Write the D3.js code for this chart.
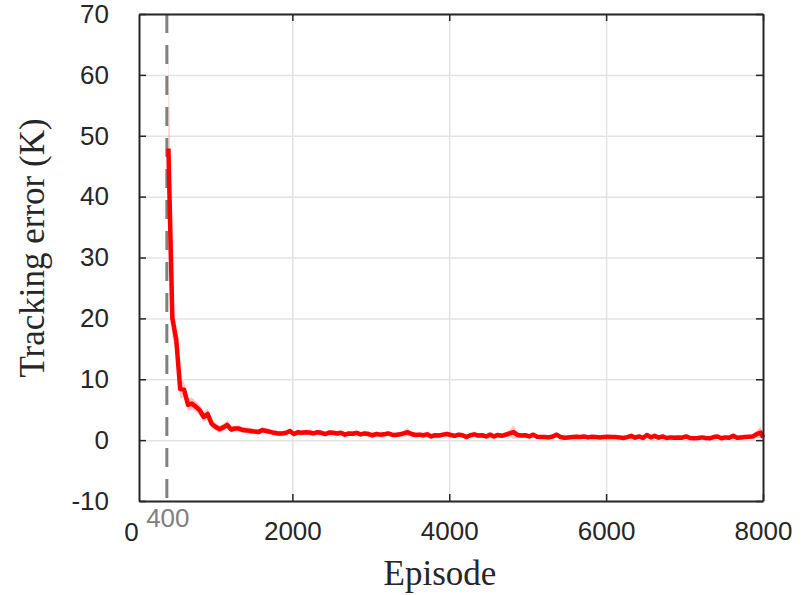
<!DOCTYPE html>
<html>
<head>
<meta charset="utf-8">
<script src="https://cdn.jsdelivr.net/npm/d3@7/dist/d3.min.js"></script>
<style>
  body { margin: 0; background: #fff; }
  .grid line { stroke: #e3e3e3; stroke-width: 1.5; }
  .grid .domain { display: none; }
  .tick text { font-family: "Liberation Sans", Arial, sans-serif; font-size: 26px; fill: #262626; }
</style>
</head>
<body>
<div id="chart"></div>
<script>
// tracking error (K), one value every 50 episodes starting at 420, last one at 8000
var errMean = [47.9, 20.0, 16.5, 8.4, 8.3, 5.8, 6.0, 5.5, 4.9, 3.8,
  4.3, 2.7, 2.2, 1.8, 2.1, 2.5, 1.75, 1.9, 1.9, 1.65,
  1.6, 1.5, 1.4, 1.35, 1.65, 1.5, 1.35, 1.2, 1.1, 1.1,
  1.2, 1.5, 1.0, 1.3, 1.2, 1.3, 1.25, 1.1, 1.3, 1.2,
  1.0, 1.25, 1.2, 1.1, 1.2, 0.9, 1.1, 1.05, 1.2, 0.95,
  1.1, 1.0, 0.8, 1.0, 0.9, 0.95, 1.1, 0.9, 0.85, 0.95,
  1.1, 1.3, 1.0, 0.85, 0.9, 0.8, 0.95, 0.6, 0.8, 0.75,
  0.9, 1.0, 0.85, 0.7, 0.9, 0.8, 0.5, 0.8, 0.95, 0.75,
  0.8, 0.6, 0.9, 0.6, 0.85, 0.7, 0.9, 1.1, 1.3, 0.85,
  0.75, 0.8, 0.6, 0.9, 0.55, 0.5, 0.5, 0.45, 0.6, 0.9,
  0.5, 0.4, 0.45, 0.5, 0.55, 0.5, 0.6, 0.45, 0.55, 0.5,
  0.45, 0.5, 0.55, 0.5, 0.5, 0.45, 0.35, 0.5, 0.7, 0.4,
  0.6, 0.35, 0.85, 0.45, 0.7, 0.4, 0.6, 0.35, 0.45, 0.4,
  0.45, 0.4, 0.6, 0.35, 0.3, 0.35, 0.45, 0.35, 0.3, 0.5,
  0.6, 0.3, 0.45, 0.4, 0.7, 0.4, 0.45, 0.5, 0.55, 0.6,
  1.0, 1.25, 0.45];

// half width of the shaded band
var errSpread = [17, 3.0, 2.2, 1.6, 1.3, 1.1, 1.0, 0.9, 0.9, 0.8,
  0.9, 0.7, 0.6, 0.6, 0.6, 0.7, 0.5, 0.5, 0.5, 0.5,
  0.5, 0.5, 0.45, 0.45, 0.5, 0.45, 0.45, 0.4, 0.4, 0.4,
  0.4, 0.5, 0.4, 0.45, 0.4, 0.4, 0.4, 0.4, 0.4, 0.4,
  0.4, 0.4, 0.4, 0.4, 0.4, 0.4, 0.4, 0.4, 0.4, 0.4,
  0.4, 0.4, 0.4, 0.4, 0.4, 0.4, 0.4, 0.4, 0.4, 0.4,
  0.5, 0.7, 0.4, 0.4, 0.4, 0.4, 0.4, 0.35, 0.35, 0.35,
  0.35, 0.4, 0.35, 0.35, 0.35, 0.35, 0.35, 0.35, 0.4, 0.35,
  0.35, 0.35, 0.35, 0.35, 0.35, 0.35, 0.4, 0.6, 1.1, 0.5,
  0.35, 0.35, 0.3, 0.35, 0.3, 0.3, 0.3, 0.3, 0.3, 0.45,
  0.3, 0.3, 0.3, 0.3, 0.3, 0.3, 0.3, 0.3, 0.3, 0.3,
  0.3, 0.3, 0.3, 0.3, 0.3, 0.3, 0.3, 0.3, 0.35, 0.3,
  0.3, 0.3, 0.4, 0.3, 0.35, 0.3, 0.3, 0.3, 0.3, 0.3,
  0.3, 0.3, 0.3, 0.3, 0.3, 0.3, 0.3, 0.3, 0.3, 0.3,
  0.3, 0.3, 0.3, 0.3, 0.35, 0.3, 0.3, 0.3, 0.3, 0.35,
  0.6, 1.0, 0.35];

var episodes = d3.range(420, 8000, 50).concat([8000]);
var xTicks = [2000, 4000, 6000, 8000];
var yTicks = [-10, 0, 10, 20, 30, 40, 50, 60, 70];
var startEpisode = 400;

var data = [];
for (var i = 0; i < errMean.length; i++) {
  data.push({ep: episodes[i], m: errMean[i], s: errSpread[i]});
}

var svg = d3.select("#chart").append("svg")
    .attr("width", 806)
    .attr("height", 595);

var pLeft = 139, pRight = 763, pTop = 14, pBottom = 501;

var x = d3.scaleLinear().domain([45, 8000]).range([pLeft, pRight]);
var y = d3.scaleLinear().domain([-10, 70]).range([pBottom, pTop]);

// plain hyphen for negatives, like the original figure
var fmt = function(d) { return String(d); };

// gridlines
svg.append("g")
    .attr("class", "grid")
    .attr("transform", "translate(0," + pBottom + ")")
    .call(d3.axisBottom(x).tickValues([2000, 4000, 6000]).tickSize(-(pBottom - pTop)).tickFormat(""));
svg.append("g")
    .attr("class", "grid")
    .attr("transform", "translate(" + pLeft + ",0)")
    .call(d3.axisLeft(y).tickValues(yTicks).tickSize(-(pRight - pLeft)).tickFormat(""));

// start marker
svg.append("line")
    .attr("x1", x(startEpisode)).attr("x2", x(startEpisode))
    .attr("y1", pTop).attr("y2", pBottom)
    .attr("stroke", "#808080")
    .attr("stroke-width", 3)
    .attr("stroke-dasharray", "19,12");

// band + mean line
var area = d3.area()
    .x(function(d) { return x(d.ep); })
    .y0(function(d) { return y(d.m - d.s); })
    .y1(function(d) { return y(d.m + d.s); });
var line = d3.line()
    .x(function(d) { return x(d.ep); })
    .y(function(d) { return y(d.m); });

svg.append("path")
    .datum(data)
    .attr("fill", "rgba(255,0,0,0.22)")
    .attr("d", area);
svg.append("path")
    .datum(data)
    .attr("fill", "none")
    .attr("stroke", "#ff0000")
    .attr("stroke-width", 4.5)
    .attr("stroke-linejoin", "round")
    .attr("d", line);

// axes box
var axColor = "#262626";
var gx = svg.append("g")
    .attr("transform", "translate(0," + pBottom + ")")
    .call(d3.axisBottom(x).tickValues(xTicks).tickSizeInner(-7).tickSizeOuter(0).tickPadding(21).tickFormat(fmt));
var gxTop = svg.append("g")
    .attr("transform", "translate(0," + pTop + ")")
    .call(d3.axisTop(x).tickValues(xTicks).tickSizeInner(-7).tickSizeOuter(0).tickFormat(""));
var gy = svg.append("g")
    .attr("transform", "translate(" + pLeft + ",0)")
    .call(d3.axisLeft(y).tickValues(yTicks).tickSizeInner(-7).tickSizeOuter(0).tickPadding(30).tickFormat(fmt));
var gyRight = svg.append("g")
    .attr("transform", "translate(" + pRight + ",0)")
    .call(d3.axisRight(y).tickValues(yTicks).tickSizeInner(-7).tickSizeOuter(0).tickFormat(""));

[gx, gxTop, gy, gyRight].forEach(function(g) {
  g.selectAll(".domain").attr("stroke", axColor).attr("stroke-width", 2);
  g.selectAll(".tick line").attr("stroke", axColor).attr("stroke-width", 1.5);
});

// extra x labels: 0 and the gray 400
svg.append("text")
    .attr("x", x(0) - 4)
    .attr("y", pBottom + 40)
    .attr("text-anchor", "middle")
    .style("font-family", "Liberation Sans, Arial, sans-serif")
    .style("font-size", "26px")
    .attr("fill", "#262626")
    .text("0");
svg.append("text")
    .attr("x", x(startEpisode) + 1)
    .attr("y", pBottom + 26)
    .attr("text-anchor", "middle")
    .style("font-family", "Liberation Sans, Arial, sans-serif")
    .style("font-size", "26px")
    .attr("fill", "#808080")
    .text("400");

// axis titles
svg.append("text")
    .attr("x", 440)
    .attr("y", 585)
    .attr("text-anchor", "middle")
    .style("font-family", "Liberation Serif, Times New Roman, serif")
    .style("font-size", "35px")
    .attr("fill", "#262626")
    .text("Episode");
svg.append("text")
    .attr("text-anchor", "middle")
    .attr("transform", "translate(" + 44 + "," + 248 + ")rotate(-90)")
    .style("font-family", "Liberation Serif, Times New Roman, serif")
    .style("font-size", "35px")
    .attr("fill", "#262626")
    .text("Tracking error (K)");
</script>
</body>
</html>
